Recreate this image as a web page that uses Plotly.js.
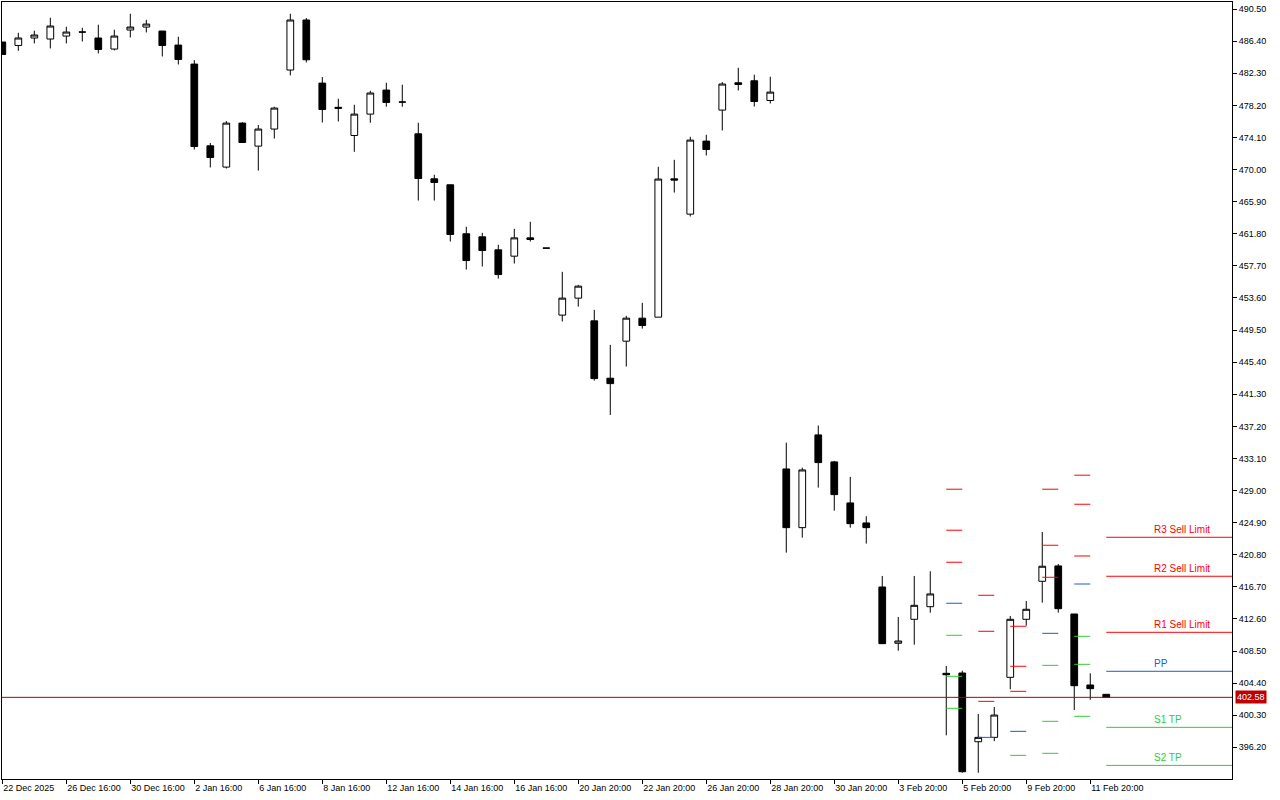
<!DOCTYPE html>
<html>
<head>
<meta charset="utf-8">
<script src="https://cdn.plot.ly/plotly-3.0.1.min.js"></script>
<style>
html, body { margin: 0; padding: 0; background: #ffffff; }
#chart { width: 1280px; height: 800px; }
</style>
</head>
<body>
<div id="chart"></div>
<script>
// ---- Candle data (one bar per session, in chart order) ----
const openPrices = [486.30,485.86,486.81,486.68,487.06,487.57,486.81,485.40,487.83,488.21,
  487.70,485.91,483.48,473.04,470.32,475.94,473.00,475.18,482.72,489.11,
  481.05,477.81,474.36,477.09,480.16,478.63,474.57,468.82,468.06,461.80,
  461.41,459.75,458.94,461.28,459.97,451.41,453.58,450.68,443.35,448.08,
  451.02,451.15,468.82,464.31,473.64,477.60,481.09,481.35,478.83,431.76,
  424.26,436.11,432.66,427.42,424.86,416.68,409.49,412.55,414.16,405.65,
  405.69,396.91,397.47,405.14,412.55,417.41,419.37,413.23,404.16,402.97];
const highPrices = [486.30,487.48,487.74,489.40,488.25,488.12,488.51,487.87,489.91,489.14,
  487.70,486.97,483.99,473.39,476.20,476.07,475.69,478.03,489.91,489.36,
  481.82,479.05,478.28,480.07,481.09,480.84,475.98,469.34,468.06,462.69,
  461.92,460.39,462.43,463.33,459.97,456.94,455.28,452.08,447.61,451.32,
  452.98,470.36,471.25,474.19,474.45,481.18,483.01,482.12,481.86,435.12,
  431.93,437.30,432.79,430.74,425.72,418.09,412.85,418.09,418.69,406.59,
  405.99,400.45,401.35,412.98,414.89,423.71,419.62,413.23,405.65,402.97];
const lowPrices = [484.71,485.18,486.12,485.48,486.12,486.37,484.84,485.22,486.88,487.52,
  484.45,483.43,472.57,470.27,470.14,473.46,469.88,473.97,482.03,483.69,
  476.02,476.15,472.27,475.98,478.03,478.03,466.05,466.05,460.81,457.23,
  457.62,456.08,458.00,460.81,459.97,450.59,452.50,443.05,438.66,444.84,
  449.69,451.15,467.07,464.01,471.80,475.00,480.11,478.06,478.45,421.07,
  422.98,429.37,426.43,424.26,422.22,409.44,408.54,409.31,413.40,397.73,
  392.95,392.95,396.99,403.61,411.74,414.68,413.40,400.96,402.28,402.58];
const closePrices = [484.71,486.81,487.19,488.34,487.57,487.57,485.35,487.06,488.21,488.59,
  485.86,484.07,472.95,471.55,475.94,473.46,475.18,477.86,489.11,484.03,
  477.68,477.95,477.09,479.78,478.58,478.63,468.86,468.35,461.71,458.38,
  459.66,456.59,461.28,461.07,459.97,453.58,455.11,443.30,442.66,451.02,
  450.08,468.79,468.66,473.77,472.57,480.93,480.88,478.70,479.90,424.26,
  431.63,432.57,428.48,424.77,424.26,409.44,409.78,414.34,415.79,405.47,
  393.08,397.47,400.32,412.55,413.83,419.33,413.91,404.07,403.69,402.58];

// ---- Time axis labels (bar index where each label sits) ----
const timeTickIndex = [0,4,8,12,16,20,24,28,32,36,40,44,48,52,56,60,64,68];
const timeTickLabels = ['22 Dec 2025','26 Dec 16:00','30 Dec 16:00','2 Jan 16:00','6 Jan 16:00',
  '8 Jan 16:00','12 Jan 16:00','14 Jan 16:00','16 Jan 16:00','20 Jan 20:00','22 Jan 20:00',
  '26 Jan 20:00','28 Jan 20:00','30 Jan 20:00','3 Feb 20:00','5 Feb 20:00','9 Feb 20:00','11 Feb 20:00'];

// ---- Price axis ticks ----
const priceTicks = [490.50,486.40,482.30,478.20,474.10,470.00,465.90,461.80,457.70,453.60,
  449.50,445.40,441.30,437.20,433.10,429.00,424.90,420.80,416.70,412.60,408.50,404.40,400.30,396.20];

// ---- Daily pivot levels (bar index where each day's levels start) ----
const pivotStart = [59, 61, 63, 65, 67, 69];
const pivotR3 = [429.17, 415.62, 411.66, 429.17, 430.96, 423.03];
const pivotR2 = [423.93, 411.02, 406.55, 422.01, 427.25, 418.05];
const pivotR1 = [419.84, 402.07, 403.35, 417.92, 420.64, 410.89];
const pivotPP = [414.60, 397.47, 398.24, 410.76, 417.06, 405.91];
const pivotS1 = [410.51, null, 395.17, 406.67, 410.38, 398.75];
const pivotS2 = [405.27, null, null, 399.52, 406.80, 393.89];
const pivotS3 = [401.18, null, null, 395.43, 400.16, null];
const currentLevelNames = ['R3 Sell Limit', 'R2 Sell Limit', 'R1 Sell Limit', 'PP', 'S1 TP', 'S2 TP'];

// ---- Styling ----
const RED = '#ff0000', BLUE = '#1e5ad2', GREEN = '#32cd32', PRICE_RED = '#c00000';
const FONT = 'Liberation Sans, Arial, sans-serif';
const X_MIN = -0.02, X_MAX = 76.86;
const Y_MIN = 392.15, Y_MAX = 491.41;

const barIndex = openPrices.map((_, i) => i);
const lastBar = pivotStart.length - 1;

function levelSegments(levelArrays) {
  const xs = [], ys = [];
  levelArrays.forEach(arr => {
    arr.forEach((v, k) => {
      if (v === null) return;
      const x0 = pivotStart[k];
      const x1 = (k === lastBar) ? X_MAX : x0 + 1;
      xs.push(x0, x1, null);
      ys.push(v, v, null);
    });
  });
  return { xs, ys };
}

const redSeg = levelSegments([pivotR3, pivotR2, pivotR1]);
const blueSeg = levelSegments([pivotPP]);
const greenSeg = levelSegments([pivotS1, pivotS2, pivotS3]);

const traces = [
  {
    type: 'candlestick',
    x: barIndex, open: openPrices, high: highPrices, low: lowPrices, close: closePrices,
    increasing: { line: { color: '#000000', width: 1 }, fillcolor: '#ffffff' },
    decreasing: { line: { color: '#000000', width: 1 }, fillcolor: '#000000' },
    whiskerwidth: 0, hoverinfo: 'skip', showlegend: false
  },
  { type: 'scatter', mode: 'lines', x: redSeg.xs, y: redSeg.ys, line: { color: RED, width: 1 }, hoverinfo: 'skip', showlegend: false, cliponaxis: true },
  { type: 'scatter', mode: 'lines', x: blueSeg.xs, y: blueSeg.ys, line: { color: BLUE, width: 1 }, hoverinfo: 'skip', showlegend: false },
  { type: 'scatter', mode: 'lines', x: greenSeg.xs, y: greenSeg.ys, line: { color: GREEN, width: 1 }, hoverinfo: 'skip', showlegend: false }
];

const lastClose = closePrices[closePrices.length - 1];
const currentLevels = [pivotR3[lastBar], pivotR2[lastBar], pivotR1[lastBar], pivotPP[lastBar], pivotS1[lastBar], pivotS2[lastBar]];
const currentColors = [RED, RED, RED, BLUE, GREEN, GREEN];

const annotations = currentLevels.map((lvl, k) => ({
  xref: 'x', yref: 'y', x: 71.9, y: lvl, xanchor: 'left', yanchor: 'bottom',
  text: currentLevelNames[k], showarrow: false, borderpad: 0, yshift: 1,
  font: { family: FONT, size: 10, color: currentColors[k] }
}));
annotations.push({
  xref: 'paper', yref: 'y', x: 1, y: lastClose, xanchor: 'left', yanchor: 'middle', xshift: 3,
  text: lastClose.toFixed(2), showarrow: false, bgcolor: PRICE_RED, borderpad: 1,
  font: { family: FONT, size: 9, color: '#ffffff' }
});

const layout = {
  width: 1280, height: 800,
  margin: { l: 2, r: 48, t: 2, b: 21, pad: 0 },
  paper_bgcolor: '#ffffff', plot_bgcolor: '#ffffff',
  showlegend: false, hovermode: false, boxgap: 0.4,
  font: { family: FONT, size: 9, color: '#000000' },
  xaxis: {
    range: [X_MIN, X_MAX], type: 'linear', fixedrange: true,
    rangeslider: { visible: false },
    tickmode: 'array', tickvals: timeTickIndex, ticktext: timeTickLabels,
    ticks: 'outside', ticklen: 4, tickwidth: 1, tickcolor: '#000000',
    ticklabelposition: 'outside right',
    tickfont: { family: FONT, size: 9, color: '#000000' },
    showgrid: false, zeroline: false,
    showline: true, mirror: true, linecolor: '#000000', linewidth: 1
  },
  yaxis: {
    range: [Y_MIN, Y_MAX], side: 'right', fixedrange: true,
    tickmode: 'array', tickvals: priceTicks, ticktext: priceTicks.map(v => v.toFixed(2)),
    ticks: 'outside', ticklen: 4, tickwidth: 1, tickcolor: '#000000',
    tickfont: { family: FONT, size: 9, color: '#000000' },
    showgrid: false, zeroline: false,
    showline: true, mirror: true, linecolor: '#000000', linewidth: 1
  },
  shapes: [{
    type: 'line', xref: 'paper', yref: 'y', x0: 0, x1: 1, y0: lastClose, y1: lastClose,
    line: { color: '#b40000', width: 1 }, layer: 'above'
  }],
  annotations: annotations
};

Plotly.newPlot('chart', traces, layout, { displayModeBar: false, staticPlot: true });
</script>
</body>
</html>
